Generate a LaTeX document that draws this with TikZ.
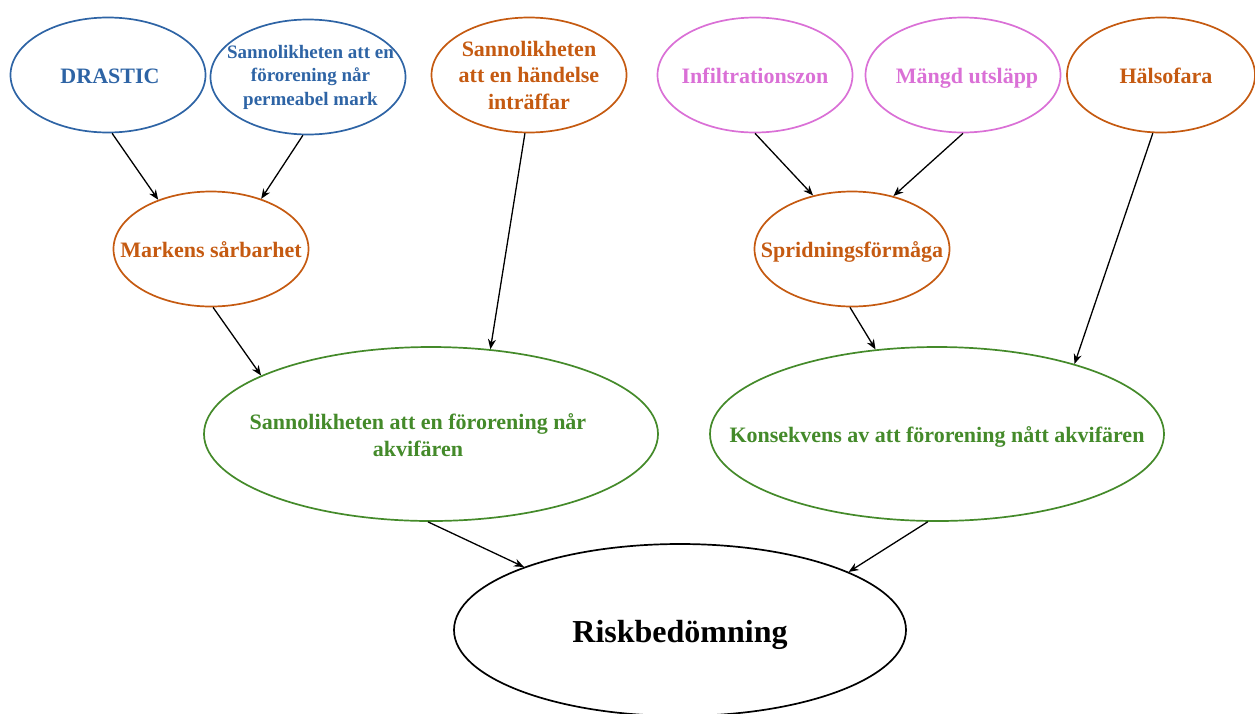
\documentclass[tikz,border=0pt]{standalone}
\usepackage{fontspec}
\setmainfont{Liberation Serif}
\usetikzlibrary{shapes.geometric,arrows.meta}

\definecolor{cblue}{HTML}{2E64A5}
\definecolor{corange}{HTML}{C55A11}
\definecolor{cpink}{HTML}{DA70D6}
\definecolor{cgreen}{HTML}{448A2A}

\tikzset{
  % negative inner sep: the ellipse size comes from minimum width/height only
  ell/.style={ellipse, draw=#1, text=#1, line width=1.7pt,
    inner xsep=-300pt, inner ysep=-200pt,
    align=center, font=\fontsize{22}{26.5}\selectfont\bfseries,
    minimum width=195pt, minimum height=115pt},
  bigell/.style={ell=#1, minimum width=454pt, minimum height=174pt},
  oneline/.style={text height=16pt, text depth=0pt},
  txt/.style={text=#1, align=center, inner sep=0pt,
    font=\fontsize{22}{26.5}\selectfont\bfseries},
  link/.style={draw=black, line width=1.3pt, -{Stealth[length=10pt,width=8pt]}}
}

\begin{document}
\begin{tikzpicture}[x=1pt,y=-1pt]
\useasboundingbox (0,0) rectangle (1255,713);

% top row
\node[ell=cblue, oneline] (drastic) at (108,75) {\hspace*{4pt}DRASTIC};
\node[ell=cblue, font=\fontsize{19}{23.5}\selectfont\bfseries] (perm) at (308,77)
  {\hspace*{5pt}Sannolikheten att en\\\hspace*{5pt}förorening når\\\hspace*{5pt}permeabel mark};
\node[ell=corange] (handelse) at (529,75) {Sannolikheten\\att en händelse\\inträffar};
\node[ell=cpink, oneline] (infilt) at (755,75) {Infiltrationszon};
\node[ell=cpink, oneline] (mangd) at (963,75) {\hspace*{8pt}Mängd utsläpp};
\node[ell=corange, oneline, minimum width=188pt] (halso) at (1161,75) {\hspace*{10pt}Hälsofara};

% middle row
\node[ell=corange, oneline] (mark) at (211,249) {Markens sårbarhet};
\node[ell=corange, oneline] (sprid) at (852,249) {Spridningsförmåga};

% lower row
\node[bigell=cgreen] (akvif) at (431,434) {};
\node[txt=cgreen] (akviftxt) at (418,435) {Sannolikheten att en förorening når\\akvifären};
\node[bigell=cgreen, oneline] (konsek) at (937,434) {Konsekvens av att förorening nått akvifären};

% bottom
\node[bigell=black, minimum width=452pt, minimum height=172pt,
      text height=24pt, text depth=0pt,
      font=\fontsize{32}{38}\selectfont\bfseries] (risk) at (680,630) {Riskbedömning};

% connectors
\draw[link] (drastic.-86)  -- (mark.137);
\draw[link] (perm.-95)     -- (mark.45);
\draw[link] (handelse.-94) -- (akvif.55);
\draw[link] (mark.-88)     -- (akvif.161);
\draw[link] (infilt.-90)   -- (sprid.126);
\draw[link] (mangd.-90)    -- (sprid.52);
\draw[link] (sprid.-92)    -- (konsek.126);
\draw[link] (halso.-98)    -- (konsek.27);
\draw[link] (akvif.-92)    -- (risk.158);
\draw[link] (konsek.-96)   -- (risk.19);
\end{tikzpicture}
\end{document}
